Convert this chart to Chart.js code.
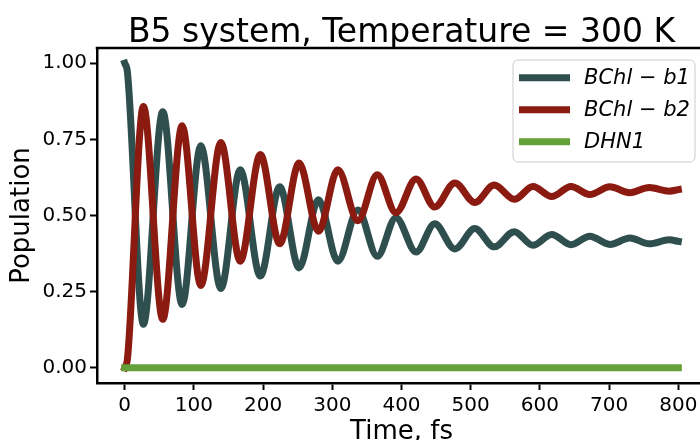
<!DOCTYPE html>
<html>
<head>
<meta charset="utf-8">
<script src="https://cdn.jsdelivr.net/npm/chart.js@4.4.1/dist/chart.umd.min.js"></script>
<style>
  html, body { margin: 0; padding: 0; overflow: hidden; background: #fff; }
  #wrap { width: 700px; height: 440px; overflow: hidden; }
</style>
</head>
<body>
<div id="wrap"><canvas id="popChart" width="712" height="440"></canvas></div>
<script>
// time axis (fs), read at peaks / troughs of the curves
const times = [0, 4, 27, 55, 83, 110, 139, 167, 196, 224, 252, 280, 308, 337, 365, 392,
  421, 448, 477, 506, 534, 563, 590, 617, 645, 672, 701, 730, 758, 787, 800];

const bchlB1 = [1.0, 0.97, 0.143, 0.841, 0.208, 0.729, 0.26, 0.65, 0.301, 0.594, 0.328, 0.552,
  0.35, 0.518, 0.366, 0.493, 0.38, 0.473, 0.39, 0.457, 0.397, 0.447, 0.402, 0.438, 0.404,
  0.432, 0.405, 0.426, 0.407, 0.42, 0.415];

const bchlB2 = [0.0, 0.03, 0.858, 0.159, 0.795, 0.27, 0.74, 0.35, 0.70, 0.407, 0.672, 0.448,
  0.65, 0.483, 0.634, 0.509, 0.62, 0.528, 0.607, 0.543, 0.60, 0.553, 0.595, 0.562, 0.595,
  0.569, 0.594, 0.575, 0.592, 0.58, 0.585];

const dhn1 = [0, 0, 0, 0, 0, 0, 0, 0, 0, 0, 0, 0, 0, 0, 0, 0,
  0, 0, 0, 0, 0, 0, 0, 0, 0, 0, 0, 0, 0, 0, 0];

const seriesLabels = ['BChl − b1', 'BChl − b2', 'DHN1'];
const seriesColors = ['#2f4f4f', '#8b1a10', '#63a038'];
const xTicks = [0, 100, 200, 300, 400, 500, 600, 700, 800];
const yTicks = [0, 0.25, 0.5, 0.75, 1.0];
const titleText = 'B5 system, Temperature = 300 K';

const FONT = '"DejaVu Sans", "Liberation Sans", sans-serif';

function pts(ys){ return times.map((t, i) => ({ x: t, y: ys[i] })); }

function lineSet(label, ys, color, order){
  return {
    label, data: pts(ys), borderColor: color, backgroundColor: color,
    borderWidth: 7, pointRadius: 0, fill: false, order,
    cubicInterpolationMode: 'monotone', borderCapStyle: 'square', borderJoinStyle: 'round'
  };
}

// title, top spine and legend, drawn like matplotlib does
const mplDecor = {
  id: 'mplDecor',
  afterDraw(chart){
    const { ctx, chartArea: a } = chart;
    ctx.save();
    ctx.strokeStyle = '#000';
    ctx.lineWidth = 2.5;
    ctx.beginPath();
    ctx.moveTo(a.left - 1.25, a.top);
    ctx.lineTo(a.right, a.top);
    ctx.lineTo(a.right, a.bottom);
    ctx.stroke();

    ctx.fillStyle = '#000';
    ctx.font = '33px ' + FONT;
    ctx.textAlign = 'center';
    ctx.textBaseline = 'alphabetic';
    ctx.fillText(titleText, (a.left + a.right) / 2, 42);

    // legend box
    const bx = 513, by = 60, bw = 182, bh = 102;
    ctx.beginPath();
    ctx.roundRect(bx, by, bw, bh, 5);
    ctx.fillStyle = 'rgba(255,255,255,0.8)';
    ctx.fill();
    ctx.lineWidth = 1;
    ctx.strokeStyle = '#cccccc';
    ctx.stroke();

    ctx.font = 'italic 21px ' + FONT;
    ctx.textAlign = 'left';
    ctx.textBaseline = 'middle';
    chart.data.datasets.forEach((ds, i) => {
      const y = 77.7 + i * 32;
      ctx.strokeStyle = ds.borderColor;
      ctx.lineWidth = 7;
      ctx.lineCap = 'butt';
      ctx.beginPath();
      ctx.moveTo(519, y);
      ctx.lineTo(570, y);
      ctx.stroke();
      ctx.fillStyle = '#000';
      ctx.fillText(ds.label, 584, y + 1);
    });
    ctx.restore();
  }
};

new Chart(document.getElementById('popChart'), {
  type: 'line',
  data: {
    datasets: [
      lineSet(seriesLabels[0], bchlB1, seriesColors[0], 3),
      lineSet(seriesLabels[1], bchlB2, seriesColors[1], 2),
      lineSet(seriesLabels[2], dhn1, seriesColors[2], 1)
    ]
  },
  options: {
    responsive: false,
    animation: false,
    layout: { padding: { top: 48, right: 6, left: 0, bottom: 0 } },
    plugins: { legend: { display: false }, tooltip: { enabled: false } },
    scales: {
      x: {
        type: 'linear', min: -40, max: 840,
        afterBuildTicks: s => { s.ticks = xTicks.map(v => ({ value: v })); },
        afterFit: s => { s.height = 57; },
        ticks: { color: '#000', font: { family: FONT, size: 20 }, padding: 4, maxRotation: 0,
          callback: v => String(v) },
        grid: { drawOnChartArea: false, drawTicks: true, tickLength: 7, tickWidth: 2, tickColor: '#000' },
        border: { display: true, color: '#000', width: 2.5 },
        title: { display: true, text: 'Time, fs', color: '#000',
          font: { family: FONT, size: 26 }, padding: { top: 0, bottom: -8 } }
      },
      y: {
        type: 'linear', min: -0.05, max: 1.05,
        afterBuildTicks: s => { s.ticks = yTicks.map(v => ({ value: v })); },
        afterFit: s => { s.width = 97; },
        ticks: { color: '#000', font: { family: FONT, size: 20 }, padding: 3,
          callback: v => Number(v).toFixed(2) },
        grid: { drawOnChartArea: false, drawTicks: true, tickLength: 7, tickWidth: 2, tickColor: '#000' },
        border: { display: true, color: '#000', width: 2.5 },
        title: { display: true, text: 'Population', color: '#000',
          font: { family: FONT, size: 26 }, padding: { top: 7, bottom: 0 } }
      }
    }
  },
  plugins: [mplDecor]
});
</script>
</body>
</html>
